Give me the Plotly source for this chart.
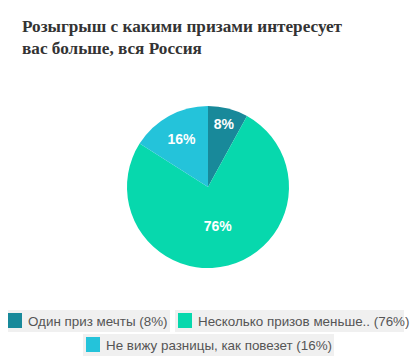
import plotly.graph_objects as go

W, H = 420, 363
OFF = 8  # page body margin

title_lines = ["Розыгрыш с какими призами интересует", "вас больше, вся Россия"]
labels = ["Один приз мечты", "Несколько призов меньше..", "Не вижу разницы, как повезет"]
values = [8, 76, 16]
colors = ["#18899a", "#07d8ad", "#24c3da"]

def px(x):
    return (x - OFF) / W

def py(y):
    return 1 - (y - OFF) / H

fig = go.Figure()
fig.add_trace(go.Pie(
    labels=labels, values=values, sort=False, direction="clockwise", rotation=0,
    marker=dict(colors=colors, line=dict(width=0)),
    textinfo="percent", texttemplate="%{value}%", textposition="inside",
    insidetextorientation="horizontal",
    textfont=dict(family="Liberation Sans, Arial", size=14, color="white", weight="bold"),
    domain=dict(x=[px(127), px(289)], y=[py(268), py(106)]),
    showlegend=False, hoverinfo="label+percent",
))

shapes = []
annotations = []

annotations.append(dict(
    x=px(20), y=py(15), xref="paper", yref="paper", xanchor="left", yanchor="top",
    text="<b>" + "<br>".join(title_lines) + "</b>", showarrow=False, align="left",
    font=dict(family="Liberation Serif, Times New Roman", size=17.2, color="#333333"),
))

# legend boxes: (left, top, right, bottom)
boxes = [(5, 310, 170, 332), (175, 310, 404, 332), (83, 334, 334, 356)]
for (x0, y0, x1, y1), lab, val, col in zip(boxes, labels, values, colors):
    shapes.append(dict(type="rect", xref="paper", yref="paper",
                       x0=px(x0), x1=px(x1), y0=py(y1), y1=py(y0),
                       fillcolor="#f0f0f0", line=dict(width=0), layer="below"))
    shapes.append(dict(type="rect", xref="paper", yref="paper",
                       x0=px(x0 + 3), x1=px(x0 + 17), y0=py(y1 - 4), y1=py(y0 + 3),
                       fillcolor=col, line=dict(width=0)))
    annotations.append(dict(
        x=px(x0 + 21), y=py((y0 + y1) / 2), xref="paper", yref="paper",
        xanchor="left", yanchor="middle", showarrow=False,
        text=f"{lab} ({val}%)",
        font=dict(family="Liberation Sans, Arial", size=13.4, color="#555555"),
    ))

fig.update_layout(
    width=W, height=H, margin=dict(l=0, r=0, t=0, b=0),
    paper_bgcolor="white", plot_bgcolor="white",
    shapes=shapes, annotations=annotations,
)

fig.write_html("out.html")
